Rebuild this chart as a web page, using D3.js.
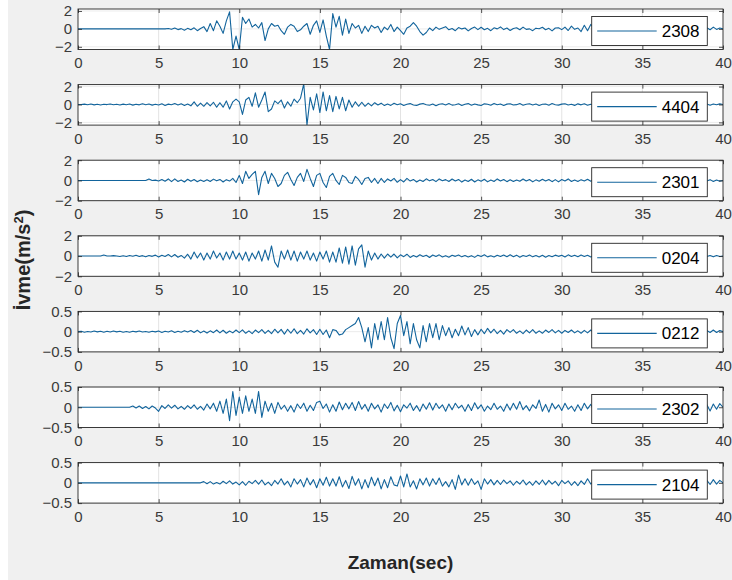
<!DOCTYPE html>
<html><head><meta charset="utf-8">
<script src="https://cdn.jsdelivr.net/npm/d3@7"></script>
<style>body{margin:0;background:#fff}svg{display:block}</style>
</head><body>
<script>
// ---- data (acceleration, m/s^2), 0.2 s sampling from each record's start second ----
const names = ["2308","4404","2301","0204","0212","2302","2104"];
const startSec = [5,0,4,1,0,3,7];
const yLimits = [[-2.3,2.22],[-2.3,2.22],[-2,2],[-2,2],[-0.5,0.5],[-0.5,0.5],[-0.5,0.5]];
const yTickVals = [[-2,0,2],[-2,0,2],[-2,0,2],[-2,0,2],[-0.5,0,0.5],[-0.5,0,0.5],[-0.5,0,0.5]];
const xTickVals = [0,5,10,15,20,25,30,35,40];

const rec2308 = [
0,0,0,0.05,-0.05,
0.1,-0.08,0.03,-0.15,0.06,
-0.1,0.12,-0.2,0.05,0.25,
-0.3,0.6,-0.2,0.9,0.3,
-0.5,0.9,1.9,-2.3,-0.8,
-2.3,1.3,0.6,1.1,0.2,
0.5,0.1,0.7,-1.3,0.0,
0.6,0.3,0.4,-0.2,-0.6,
0.2,0.5,0.3,-0.3,-0.1,
0.3,0.6,-0.6,0.4,0.9,
-0.4,1.0,-0.8,-2.3,1.7,
0.2,1.4,-0.7,1.1,-0.5,
0.6,0.1,0.4,-0.5,0.3,
-0.3,0.4,0.1,0.3,-0.4,
0.2,-0.1,0.5,-0.3,0.2,
-0.2,-0.6,0.1,0.3,0.7,
0.3,-0.3,-0.7,-0.4,0.1,
-0.2,0.2,-0.05,0.1,0.25,
-0.1,0.05,-0.2,0.15,0.0,
0.1,-0.22,0.05,0.2,-0.08,
0.18,-0.1,0.06,-0.2,0.12,
0.0,0.22,-0.08,0.1,-0.18,
0.05,0.12,-0.1,0.2,-0.05,
0.0,-0.2,0.08,0.02,0.18,
-0.1,0.06,-0.22,0.1,0.12,
-0.08,0.2,-0.18,0.3,-0.05,
0.1,-0.3,0.4,-0.2,0.5,
0.1,-0.2,0.15,-0.05,0.1,
-0.08,0.12,-0.04,0.1,-0.12,
0.06,-0.1,0.08,-0.02,0.1,
-0.06,0.04,-0.1,0.08,-0.05,
0.1,-0.04,0.06,-0.1,0.05,
-0.08,0.1,-0.03,0.07,-0.1,
0.05,-0.09,0.1,-0.06,0.04,
0.12,-0.1,0.2,-0.06,0.1,
0.0];

const rec4404 = [
0,0,0.04,-0.02,0.05,
-0.04,0.02,-0.05,0.03,-0.01,
0.05,-0.03,0.02,-0.05,0.04,
-0.02,0.05,-0.07,0.03,-0.04,
0.08,-0.02,0.05,-0.07,0.02,
-0.05,0.08,-0.1,0.04,-0.03,
0.1,-0.06,0.08,-0.1,0.05,
-0.15,0.3,-0.2,0.15,-0.2,
0.2,-0.15,0.25,-0.3,0.2,
-0.3,0.4,-0.5,0.3,0.6,
0.3,-1.1,0.5,0.8,-0.2,
1.3,-0.3,0.5,1.4,-0.8,
-0.5,0.4,0.1,0.5,-0.4,
0.3,-0.2,0.6,0.2,0.7,
2.3,-2.3,0.8,-0.6,1.2,
-0.9,1.4,-0.7,1.0,-0.8,
0.9,-0.5,0.8,-0.7,0.5,
-0.3,0.3,-0.2,0.25,-0.2,
0.15,-0.15,0.2,-0.05,0.15,
-0.12,0.05,-0.1,0.14,-0.03,
0.08,-0.12,0.02,0.1,-0.06,
-0.1,0.04,0.12,-0.02,-0.09,
0.06,-0.14,0.03,0.09,-0.05,
0.11,-0.07,-0.02,0.08,-0.12,
0.03,0.1,-0.08,0.05,-0.04,
-0.11,0.07,0.02,-0.09,0.12,
-0.03,0.06,-0.1,0.04,0.08,
-0.06,-0.02,0.1,-0.08,0.03,
0.09,-0.05,0.06,-0.11,0.02,
0.05,-0.08,0.1,-0.03,-0.07,
0.04,0.09,-0.06,0.02,-0.1,
0.07,-0.04,0.08,-0.09,0.03,
-0.06,0.05,-0.08,0.04,0.07,
-0.05,0.1,-0.03,-0.08,0.05,
0.06,-0.09,0.04,0.08,-0.04,
-0.07,0.03,0.09,-0.05,0.06,
0.04,-0.08,0.05,-0.03,0.07,
-0.09,0.06,-0.02,0.08,-0.05,
0.03,-0.07,0.1,-0.04,0.05,
0.05,-0.08,0.06,-0.03,0.07,
0.0];

const rec2301 = [
0,0,0.15,0,0.03,
-0.05,0.1,-0.08,0.15,-0.12,
0.15,-0.1,0.05,-0.15,0.12,
-0.08,0.1,-0.13,0.04,-0.1,
0.07,-0.1,0.13,-0.04,0.1,
-0.15,0.08,-0.06,0.2,-0.2,
0.5,-0.3,0.9,0.2,0.6,
0.9,-1.4,0.3,0.9,-0.3,
0.7,0.2,-0.6,-0.3,0.5,
0.8,0.1,-0.5,0.3,0.7,
-0.1,1.1,0.2,-0.6,0.5,
0.7,-0.2,-0.7,0.4,0.7,
0.0,-0.4,0.5,0.3,-0.2,
-0.3,0.4,0.1,-0.4,0.2,
0.3,-0.2,0.2,-0.3,0.2,
-0.2,0.15,-0.05,0.2,-0.18,
0.08,-0.15,0.2,-0.06,0.1,
-0.15,0.05,-0.1,0.16,-0.04,
0.1,-0.12,0.15,-0.02,0.08,
-0.1,0.14,-0.06,0.1,-0.16,
0.05,-0.1,0.12,-0.15,0.06,
-0.08,0.12,-0.14,0.04,-0.1,
0.15,-0.06,0.1,-0.12,0.07,
-0.1,0.05,-0.08,0.14,-0.06,
0.1,-0.14,0.06,-0.08,0.12,
-0.05,0.1,-0.12,0.08,-0.14,
0.1,-0.06,0.15,-0.1,0.04,
-0.1,0.08,-0.05,0.12,-0.08,
0.06,-0.1,0.09,-0.04,0.1,
-0.08,0.05,-0.1,0.07,-0.06,
0.1,-0.05,0.08,-0.1,0.04,
-0.07,0.1,-0.06,0.05,-0.09,
0.08,-0.04,0.1,-0.07,0.06,
-0.1,0.05,-0.08,0.09,-0.03,
0.07,-0.09,0.06,-0.05,0.1,
-0.06,0.08,-0.1,0.05,-0.07,
0.0];

const rec0204 = [
0,0,0,0.1,0,
0,0.04,0,-0.04,0.03,
-0.04,0.05,-0.02,0.08,-0.05,
0.04,-0.08,0.05,-0.03,0.09,
-0.1,0.07,-0.04,0.15,-0.08,
0.15,-0.12,0.06,-0.2,0.18,
-0.3,0.4,-0.2,0.3,-0.4,
0.3,-0.3,0.5,-0.2,0.3,
-0.4,0.4,-0.3,0.5,-0.3,
0.3,-0.4,0.4,-0.5,0.3,
-0.3,0.5,-0.5,0.6,-0.4,
1.0,-0.6,-1.1,0.5,-0.3,
0.6,-0.4,0.5,-0.5,0.4,
-0.3,0.5,-0.4,0.3,-0.5,
0.4,-0.3,0.5,-0.6,0.4,
-0.6,0.8,-0.7,0.9,-0.8,
1.0,-0.9,0.7,1.1,-1.1,
0.5,-0.4,0.3,-0.3,0.2,
-0.2,0.2,-0.1,0.2,-0.18,
0.12,-0.06,0.18,-0.14,0.05,
-0.1,0.13,-0.04,0.08,-0.14,
0.1,-0.05,0.12,-0.09,0.04,
-0.12,0.07,-0.03,0.1,-0.08,
0.06,-0.1,0.04,-0.13,0.09,
-0.05,0.12,-0.08,0.03,-0.1,
0.08,-0.04,0.1,-0.07,0.12,
-0.06,0.09,-0.12,0.05,-0.04,
0.1,-0.08,0.06,-0.1,0.07,
-0.12,0.05,-0.06,0.09,-0.03,
0.07,-0.1,0.12,-0.05,0.08,
-0.06,0.1,-0.04,0.07,-0.09,
0.05,-0.08,0.06,-0.03,0.08,
-0.07,0.04,-0.09,0.06,-0.05,
0.08,-0.04,0.07,-0.08,0.05,
-0.06,0.09,-0.05,0.04,-0.08,
0.06,-0.05,0.08,-0.06,0.04,
-0.08,0.05,-0.04,0.07,-0.06,
0.05,-0.07,0.06,-0.04,0.08,
-0.05,0.06,-0.08,0.05,-0.04,
0.0];

const rec0212 = [
0,0.01,-0.015,0.005,-0.01,
0.015,-0.005,0.01,-0.015,0.01,
-0.01,0.015,-0.005,0.01,-0.015,
0.005,-0.015,0.01,-0.005,0.015,
-0.01,0.005,-0.015,0.01,-0.005,
0.015,-0.02,0.01,-0.01,0.02,
-0.02,0.01,-0.015,0.025,-0.01,
0.03,-0.02,0.035,-0.03,0.015,
-0.035,0.02,-0.025,0.04,-0.03,
0.035,-0.04,0.015,-0.03,0.04,
-0.025,0.045,-0.04,0.02,-0.05,
0.04,-0.025,0.05,-0.045,0.03,
-0.05,0.06,-0.03,0.055,-0.06,
0.06,-0.04,0.07,-0.05,0.03,
-0.06,0.07,-0.03,0.05,-0.07,
0.06,-0.07,0.04,-0.15,0.05,
0.03,-0.08,-0.06,0.05,0.1,
0.15,0.2,0.35,0.1,-0.25,
0.1,-0.4,0.2,-0.2,0.25,
-0.2,0.35,-0.15,-0.42,0.2,
0.4,-0.1,0.25,-0.3,0.2,
-0.2,-0.4,0.15,-0.25,0.2,
-0.15,0.2,-0.2,0.15,-0.1,
0.1,-0.15,0.06,-0.1,0.14,
-0.08,0.1,-0.12,0.05,-0.08,
0.06,-0.05,0.08,-0.03,0.06,
-0.05,0.03,-0.06,0.05,-0.02,
0.05,-0.04,0.02,-0.05,0.04,
-0.03,0.05,-0.04,0.02,-0.04,
0.04,-0.02,0.05,-0.03,0.03,
-0.04,0.03,-0.02,0.04,-0.03,
0.02,-0.04,0.03,-0.03,0.04,
-0.03,0.02,-0.04,0.03,-0.02,
0.03,-0.03,0.04,-0.02,0.03,
-0.04,0.02,-0.03,0.03,-0.02,
0.03,-0.02,0.04,-0.03,0.02,
-0.03,0.04,-0.02,0.03,-0.03,
0.02,-0.03,0.03,-0.04,0.02,
-0.02,0.03,-0.03,0.02,-0.03,
0.03,-0.02,0.04,-0.02,0.03,
0.0];

const rec2302 = [
0,0,0.03,-0.02,0.03,
-0.03,0.02,-0.04,0.03,-0.02,
-0.1,0.04,-0.03,0.06,-0.02,
0.05,-0.04,0.02,-0.05,0.04,
-0.03,0.06,-0.05,0.02,-0.07,
0.08,-0.04,0.1,-0.1,0.15,
-0.15,0.2,-0.33,0.39,-0.2,
0.25,-0.15,0.28,-0.1,0.2,
-0.15,0.39,-0.25,0.15,-0.1,
0.1,-0.15,0.12,-0.05,0.05,
-0.1,0.04,-0.12,0.08,-0.03,
0.1,-0.1,0.05,-0.08,0.12,
0.15,-0.03,0.08,-0.12,0.06,
-0.1,0.13,-0.06,0.1,-0.04,
0.12,-0.08,0.14,-0.05,0.07,
-0.1,0.1,-0.04,0.06,-0.12,
0.08,-0.03,0.12,-0.09,0.05,
-0.11,0.06,-0.02,0.1,-0.08,
0.04,-0.1,0.08,-0.05,0.11,
-0.07,0.1,-0.03,0.06,-0.1,
0.08,-0.06,0.1,-0.02,0.05,
-0.1,0.07,-0.08,0.11,-0.04,
0.06,-0.1,0.03,-0.06,0.1,
-0.05,0.03,-0.1,0.08,-0.07,
0.1,-0.05,0.14,-0.06,0.04,
-0.09,0.06,-0.03,0.18,-0.1,
0.07,-0.12,0.1,-0.04,0.06,
-0.08,0.1,-0.05,0.03,-0.1,
0.06,-0.08,0.1,-0.04,0.07,
-0.06,0.05,-0.08,0.04,-0.05,
0.07,-0.04,0.06,-0.07,0.03,
-0.05,0.08,-0.03,0.05,-0.06,
0.04,-0.07,0.06,-0.02,0.05,
-0.06,0.03,-0.05,0.07,-0.04,
0.05,-0.06,0.04,-0.05,0.06,
-0.04,0.07,-0.05,0.03,-0.06,
0.06,-0.09,0.08,-0.05,0.09,
0.0];

const rec2104 = [
0,0,0,0,0.03,
-0.02,0.03,-0.03,0.01,-0.03,
0.04,-0.02,0.05,-0.03,0.02,
-0.05,0.03,-0.06,0.04,-0.02,
0.06,-0.03,0.07,-0.05,0.02,
-0.07,0.06,-0.03,0.1,-0.05,
0.04,-0.1,0.1,-0.03,0.08,
-0.1,0.12,-0.05,0.08,-0.12,
0.1,-0.06,0.14,-0.08,0.1,
-0.08,0.15,-0.1,0.06,-0.14,
0.16,-0.06,0.1,-0.15,0.08,
-0.12,0.14,-0.07,0.12,-0.15,
0.08,-0.12,0.15,-0.05,-0.08,
0.17,-0.1,0.22,-0.1,0.05,
-0.15,0.1,-0.05,0.12,-0.08,
0.1,-0.04,0.12,-0.08,0.03,
-0.1,0.08,-0.16,0.19,-0.05,
0.1,-0.06,0.1,-0.04,0.05,
-0.16,0.1,-0.03,0.08,-0.05,
0.06,-0.04,0.07,-0.02,0.05,
-0.06,0.04,-0.03,0.07,-0.05,
0.03,-0.06,0.05,-0.04,0.07,
-0.05,0.06,-0.03,0.04,-0.07,
0.06,-0.02,0.05,-0.06,0.03,
-0.07,0.05,-0.04,0.1,-0.03,
0.04,-0.05,0.03,-0.04,0.05,
-0.03,0.04,-0.05,0.02,-0.04,
0.05,-0.03,0.04,-0.05,0.03,
-0.04,0.03,-0.05,0.04,-0.02,
0.04,-0.05,0.03,-0.03,0.05,
-0.03,0.05,-0.04,0.03,-0.05,
0.03,-0.04,0.05,-0.03,0.04,
0.06,-0.04,0.08,-0.03,0.06,
0.0];

const records = [rec2308, rec4404, rec2301, rec0204, rec0212, rec2302, rec2104];
const dt = 0.2;

// ---- layout ----
const W = 732, H = 580;
const axLeft = 78, axRight = 723;
const axTop0 = 9, axStep = 75.6, axH = 40.5;
const lineColor = "#12649c";
const axColor = "#262626";
const font = "'Liberation Sans', Arial, Helvetica, sans-serif";

const svg = d3.select("body").append("svg").attr("width", W).attr("height", H);
svg.append("rect").attr("x", 8).attr("y", 0).attr("width", W - 8).attr("height", H).attr("fill", "#f0f0f0");

const x = d3.scaleLinear().domain([0, 40]).range([axLeft, axRight]);

records.forEach((vals, i) => {
  const top = axTop0 + i * axStep;
  const y = d3.scaleLinear().domain(yLimits[i]).range([top + axH, top]);
  const g = svg.append("g");
  g.append("rect").attr("x", axLeft).attr("y", top).attr("width", axRight - axLeft).attr("height", axH).attr("fill", "#fff");

  // grid
  g.selectAll(".gx").data(xTickVals.slice(1, -1)).join("line")
    .attr("x1", d => x(d)).attr("x2", d => x(d)).attr("y1", top).attr("y2", top + axH)
    .attr("stroke", "#dcdcdc").attr("stroke-width", 0.8);
  g.selectAll(".gy").data(yTickVals[i]).join("line")
    .attr("x1", axLeft).attr("x2", axRight).attr("y1", d => y(d)).attr("y2", d => y(d))
    .attr("stroke", "#e6e6e6").attr("stroke-width", 0.8);

  // data
  const pts = [{t: 0, v: 0}].concat(vals.map((v, k) => ({t: startSec[i] + k * dt, v})));
  const clipId = "clip" + i;
  svg.append("clipPath").attr("id", clipId).append("rect")
    .attr("x", axLeft).attr("y", top).attr("width", axRight - axLeft).attr("height", axH);
  g.append("path").datum(pts).attr("clip-path", `url(#${clipId})`)
    .attr("fill", "none").attr("stroke", lineColor).attr("stroke-width", 1.1)
    .attr("stroke-linejoin", "round")
    .attr("d", d3.line().x(d => x(d.t)).y(d => y(d.v)));

  // axes
  const xb = g.append("g").attr("transform", `translate(0,${top + axH})`)
    .call(d3.axisBottom(x).tickValues(xTickVals).tickSize(-4).tickPadding(8).tickFormat(d3.format("d")));
  const xt = g.append("g").attr("transform", `translate(0,${top})`)
    .call(d3.axisTop(x).tickValues(xTickVals).tickSize(-4).tickFormat(""));
  const yl = g.append("g").attr("transform", `translate(${axLeft},0)`)
    .call(d3.axisLeft(y).tickValues(yTickVals[i]).tickSize(-4).tickPadding(6).tickFormat(d => d3.format("")(d)));
  const yr = g.append("g").attr("transform", `translate(${axRight},0)`)
    .call(d3.axisRight(y).tickValues(yTickVals[i]).tickSize(-4).tickFormat(""));
  [xb, xt, yl, yr].forEach(a => {
    a.select(".domain").remove();
    a.selectAll(".tick line").attr("stroke", axColor).attr("stroke-width", 0.8);
    a.selectAll("text").attr("fill", "#3a3a3a").style("font-family", font).style("font-size", "15px");
  });
  g.append("rect").attr("x", axLeft).attr("y", top).attr("width", axRight - axLeft).attr("height", axH)
    .attr("fill", "none").attr("stroke", axColor).attr("stroke-width", 0.9);

  // legend
  const lx = 591.7, ly = top + 7.5, lw = 115.6, lh = 29;
  g.append("rect").attr("x", lx).attr("y", ly).attr("width", lw).attr("height", lh)
    .attr("fill", "#fff").attr("stroke", axColor).attr("stroke-width", 0.9);
  g.append("line").attr("x1", lx + 5.5).attr("x2", lx + 65).attr("y1", ly + lh / 2).attr("y2", ly + lh / 2)
    .attr("stroke", lineColor).attr("stroke-width", 1.1);
  g.append("text").attr("x", lx + 70).attr("y", ly + lh / 2 + 6).text(names[i])
    .attr("fill", "#000").style("font-family", font).style("font-size", "17px");
});

// axis titles
svg.append("text").attr("x", (axLeft + axRight) / 2).attr("y", 569).attr("text-anchor", "middle")
  .style("font-family", font).style("font-size", "19px").style("font-weight", "bold").attr("fill", "#262626")
  .text("Zaman(sec)");
const yt = svg.append("text").attr("transform", "translate(30,260) rotate(-90)").attr("text-anchor", "middle")
  .style("font-family", font).style("font-size", "20px").style("font-weight", "bold").attr("fill", "#262626");
yt.append("tspan").text("İvme(m/s");
yt.append("tspan").attr("dy", -7).style("font-size", "13px").text("2");
yt.append("tspan").attr("dy", 7).text(")");
</script>
</body></html>
